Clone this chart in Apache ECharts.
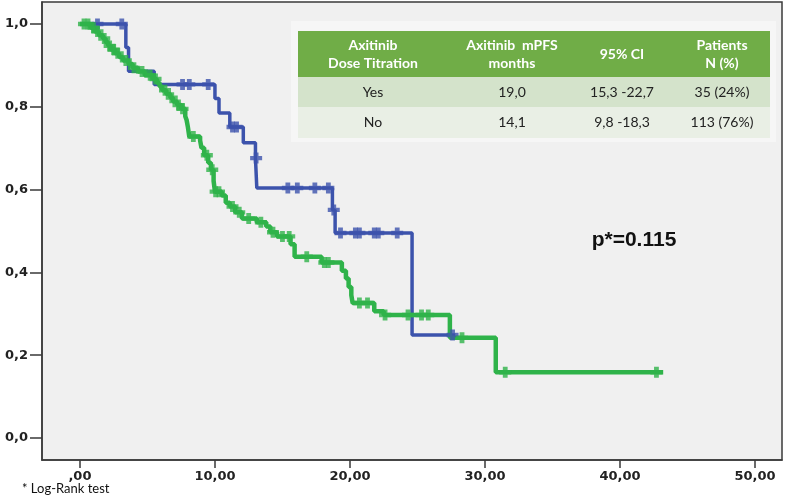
<!DOCTYPE html>
<html>
<head>
<meta charset="utf-8">
<script src="https://cdn.jsdelivr.net/npm/echarts@6/dist/echarts.min.js"></script>
<style>
  html, body { margin: 0; padding: 0; background: #fff; }
  #main { width: 797px; height: 497px; }
</style>
</head>
<body>
<div id="main"></div>
<script>
// Kaplan-Meier steps: time (months) and survival after the drop
var blueT = [0, 3.4, 3.6, 5.5, 10.0, 10.3, 11.1, 12.1, 13.0, 13.1, 18.7, 18.9, 24.6, 27.8];
var blueS = [1.0, 0.943, 0.886, 0.854, 0.82, 0.785, 0.751, 0.713, 0.676, 0.604, 0.551, 0.495, 0.249, 0.249];
var blueCens = [1.3, 3.1, 7.6, 8.1, 9.5, 11.3, 11.6, 13.05, 15.4, 16.1, 17.4, 18.4, 18.8, 19.3, 20.4, 20.7, 21.8, 22.1, 23.5, 27.6];

var greenT = [0, 0.8, 1.1, 1.4, 1.7, 1.9, 2.1, 2.3, 2.6, 2.9, 3.2, 3.6, 3.9, 4.3, 4.8, 5.4, 5.7, 5.9, 6.1, 6.4, 6.7, 6.9, 7.2, 7.5, 7.8, 7.9, 8.0, 8.1, 8.9, 9.0, 9.2, 9.5, 9.7, 9.9, 10.0, 10.5, 10.8, 11.1, 11.5, 12.0, 13.1, 13.8, 14.1, 14.6, 15.6, 15.9, 17.9, 19.4, 19.7, 19.9, 20.1, 20.2, 21.8, 22.5, 27.4, 30.8, 43.2];
var greenS = [1.0, 0.991, 0.982, 0.973, 0.965, 0.956, 0.947, 0.938, 0.929, 0.920, 0.912, 0.903, 0.894, 0.885, 0.876, 0.867, 0.858, 0.849, 0.840, 0.831, 0.822, 0.813, 0.804, 0.795, 0.777, 0.768, 0.750, 0.728, 0.719, 0.701, 0.683, 0.665, 0.648, 0.621, 0.595, 0.586, 0.568, 0.559, 0.545, 0.530, 0.521, 0.511, 0.497, 0.487, 0.468, 0.438, 0.424, 0.404, 0.385, 0.365, 0.345, 0.326, 0.306, 0.297, 0.242, 0.159, 0.159];
var greenCens = [0.3, 0.6, 1.0, 1.3, 1.8, 2.2, 2.5, 2.8, 3.4, 4.0, 4.6, 5.2, 5.6, 6.3, 6.8, 7.3, 7.6, 8.4, 9.4, 9.8, 10.05, 10.3, 11.3, 11.8, 12.5, 13.4, 14.3, 15.0, 15.5, 16.8, 18.1, 18.4, 20.7, 21.3, 22.6, 24.3, 25.3, 25.8, 28.3, 31.5, 42.7];

var xTicks = [0, 10, 20, 30, 40, 50];
var xLabels = [',00', '10,00', '20,00', '30,00', '40,00', '50,00'];
var yTicks = [0, 0.2, 0.4, 0.6, 0.8, 1.0];
var yLabels = ['0,0', '0,2', '0,4', '0,6', '0,8', '1,0'];

var tableHead = ['Axitinib\nDose Titration', 'Axitinib  mPFS\nmonths', '95% CI', 'Patients\nN (%)'];
var tableRows = [
  ['Yes', '19,0', '15,3 -22,7', '35 (24%)'],
  ['No', '14,1', '9,8 -18,3', '113 (76%)']
];

function steps(T, S) {
  return T.map(function (t, i) { return [t, S[i]]; });
}
function survAt(T, S, t) {
  var s = S[0];
  for (var i = 0; i < T.length; i++) { if (T[i] <= t) s = S[i]; }
  return s;
}
function cens(T, S, C) {
  return C.map(function (t) { return [t, survAt(T, S, t)]; });
}

var BLUE = '#3c53ac';
var GREEN = '#2fb34a';
var plus = 'path://M3,0H7V3H10V7H7V10H3V7H0V3H3Z';

var colX = [373, 512, 622, 722];
var graphics = [
  { type: 'rect', shape: { x: 291, y: 21, width: 485, height: 121 }, style: { fill: '#f6f6f6' }, z: 10 },
  { type: 'rect', shape: { x: 298, y: 31, width: 472, height: 46 }, style: { fill: '#70ad47' }, z: 11 },
  { type: 'rect', shape: { x: 298, y: 77, width: 472, height: 30 }, style: { fill: '#d4e3cb' }, z: 11 },
  { type: 'rect', shape: { x: 298, y: 107, width: 472, height: 31 }, style: { fill: '#e9efe5' }, z: 11 }
];
tableHead.forEach(function (h, i) {
  graphics.push({ type: 'text', x: colX[i], y: 54, z: 12,
    style: { text: h, fill: '#fff', font: 'bold 14px Lato', align: 'center', verticalAlign: 'middle', lineHeight: 18 } });
});
tableRows.forEach(function (row, r) {
  row.forEach(function (c, i) {
    graphics.push({ type: 'text', x: colX[i], y: 92 + r * 30, z: 12,
      style: { text: c, fill: '#222', font: '14px Lato', align: 'center', verticalAlign: 'middle' } });
  });
});
graphics.push({ type: 'text', x: 634, y: 240, z: 12,
  style: { text: 'p*=0.115', fill: '#111', font: 'bold 21px "Liberation Sans"', align: 'center', verticalAlign: 'middle' } });
graphics.push({ type: 'text', x: 22, y: 489, z: 12,
  style: { text: '* Log-Rank test', fill: '#111', font: '13px Lato', align: 'left', verticalAlign: 'middle' } });

var chart = echarts.init(document.getElementById('main'));
var option = {
  animation: false,
  backgroundColor: '#fff',
  grid: { left: 42, right: 15, top: 2, bottom: 37, show: true, backgroundColor: '#f0f0f0', borderColor: '#3a3a3a', borderWidth: 1.5 },
  xAxis: {
    type: 'value', min: -2.81, max: 52.0,
    splitLine: { show: false },
    axisLine: { show: true, onZero: false, lineStyle: { color: '#3a3a3a', width: 1.5 } },
    axisTick: { show: true, length: 8, customValues: xTicks, lineStyle: { color: '#3a3a3a', width: 1.5 } },
    axisLabel: {
      customValues: xTicks, margin: 10, color: '#222', fontSize: 13, fontWeight: 'bold', fontFamily: 'DejaVu Sans',
      formatter: function (v) { return xLabels[xTicks.indexOf(Math.round(v))]; }
    }
  },
  yAxis: {
    type: 'value', min: -0.053, max: 1.053,
    splitLine: { show: false },
    axisLine: { show: true, onZero: false, lineStyle: { color: '#3a3a3a', width: 1.5 } },
    axisTick: { show: true, length: 12, customValues: yTicks, lineStyle: { color: '#3a3a3a', width: 1.5 } },
    axisLabel: {
      customValues: yTicks, margin: 14, color: '#222', fontSize: 13, fontWeight: 'bold', fontFamily: 'DejaVu Sans',
      formatter: function (v) { return yLabels[Math.round(v * 5)]; }
    }
  },
  graphic: graphics,
  series: [
    { type: 'line', step: 'end', data: steps(blueT, blueS), showSymbol: false, z: 2,
      lineStyle: { color: BLUE, width: 3.5 } },
    { type: 'line', step: 'end', data: steps(greenT, greenS), showSymbol: false, z: 3,
      lineStyle: { color: GREEN, width: 4.5 } },
    { type: 'scatter', data: cens(blueT, blueS, blueCens), symbol: plus, symbolSize: [12, 11], z: 4,
      itemStyle: { color: BLUE } },
    { type: 'scatter', data: cens(greenT, greenS, greenCens), symbol: plus, symbolSize: [12, 11], z: 5,
      itemStyle: { color: GREEN } }
  ]
};
chart.setOption(option);
</script>
</body>
</html>
